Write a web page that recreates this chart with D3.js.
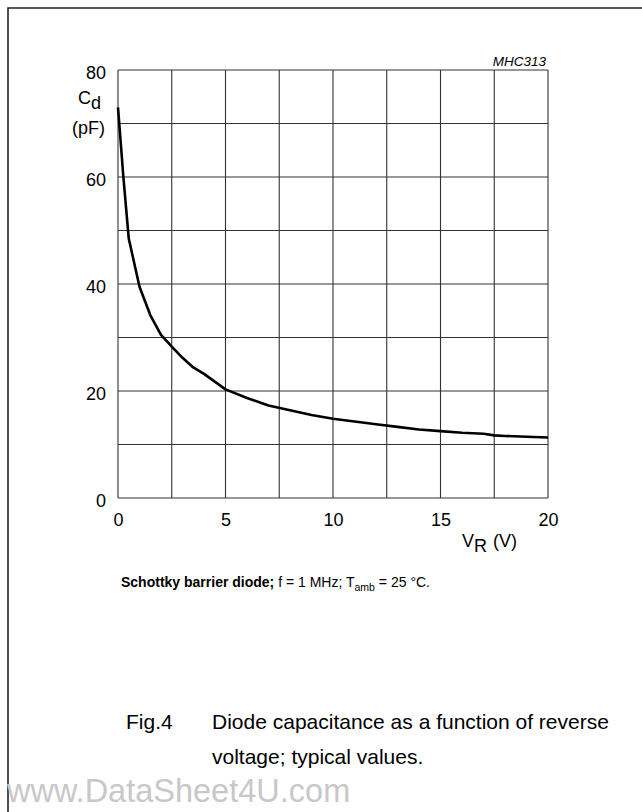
<!DOCTYPE html>
<html>
<head>
<meta charset="utf-8">
<script src="https://cdn.jsdelivr.net/npm/d3@7"></script>
<style>
  html, body { margin: 0; padding: 0; background: #fff; }
  svg { display: block; font-family: "Liberation Sans", Arial, sans-serif; }
</style>
</head>
<body>
<div id="chart"></div>
<script>
// reverse voltage (V) and diode capacitance (pF)
const vr = [0, 0.25, 0.5, 1, 1.5, 2, 2.5, 3, 3.5, 4, 5, 6, 7, 8, 9, 10, 11, 12, 13, 14, 15, 16, 17, 17.5, 18, 19, 20];
const cd = [73, 60, 48.5, 39.5, 34.2, 30.5, 28.3, 26.2, 24.4, 23.2, 20.3, 18.7, 17.3, 16.4, 15.5, 14.8, 14.3, 13.8, 13.3, 12.8, 12.5, 12.2, 12.0, 11.7, 11.6, 11.45, 11.3];

const xTicks = [0, 5, 10, 15, 20];
const yTicks = [0, 20, 40, 60, 80];
const xGrid = d3.range(0, 20.01, 2.5);
const yGrid = d3.range(0, 80.01, 10);

const W = 642, H = 812;
const margin = { top: 70, right: 94, bottom: 314, left: 118 };
const width = W - margin.left - margin.right;
const height = H - margin.top - margin.bottom;

const svg = d3.select("#chart").append("svg")
    .attr("width", W)
    .attr("height", H);

// page frame (top and left edge only)
svg.append("path")
    .attr("d", `M8,${H} L8,8 L${W},8`)
    .attr("fill", "none")
    .attr("stroke", "#222")
    .attr("stroke-width", 1.6);

const g = svg.append("g")
    .attr("transform", `translate(${margin.left},${margin.top})`);

const x = d3.scaleLinear().domain([0, 20]).range([0, width]);
const y = d3.scaleLinear().domain([0, 80]).range([height, 0]);

// grid
g.append("g").selectAll("line").data(xGrid).join("line")
    .attr("x1", d => x(d)).attr("x2", d => x(d))
    .attr("y1", 0).attr("y2", height)
    .attr("stroke", "#333").attr("stroke-width", 1.1);

g.append("g").selectAll("line").data(yGrid).join("line")
    .attr("x1", 0).attr("x2", width)
    .attr("y1", d => y(d)).attr("y2", d => y(d))
    .attr("stroke", "#333").attr("stroke-width", 1.1);

// axes labels
const xAxis = d3.axisBottom(x).tickValues(xTicks).tickSize(0).tickPadding(15);
g.append("g")
    .attr("transform", `translate(0,${height})`)
    .call(xAxis)
    .call(a => a.select(".domain").remove())
    .selectAll("text")
    .attr("font-size", 18).attr("fill", "#000")
    .attr("font-family", "Liberation Sans, Arial, sans-serif");

const yAxis = d3.axisLeft(y).tickValues(yTicks).tickSize(0).tickPadding(12);
g.append("g")
    .call(yAxis)
    .call(a => a.select(".domain").remove())
    .selectAll("text")
    .attr("font-size", 18).attr("fill", "#000")
    .attr("dy", "0.45em")
    .attr("font-family", "Liberation Sans, Arial, sans-serif");

// curve
const line = d3.line()
    .x((d, i) => x(vr[i]))
    .y(d => y(d));

g.append("path")
    .datum(cd)
    .attr("d", line)
    .attr("fill", "none")
    .attr("stroke", "#000")
    .attr("stroke-width", 2.6)
    .attr("stroke-linejoin", "round");

// axis titles
const yt = svg.append("text").attr("x", 78).attr("y", 104).attr("font-size", 18);
yt.append("tspan").text("C");
yt.append("tspan").attr("dy", 5).text("d");
svg.append("text").attr("x", 72).attr("y", 134).attr("font-size", 18).text("(pF)");

const xt = svg.append("text").attr("x", 462).attr("y", 547).attr("font-size", 18);
xt.append("tspan").text("V");
xt.append("tspan").attr("dy", 5).text("R");
xt.append("tspan").attr("dy", -5).attr("dx", 6).text("(V)");

svg.append("text")
    .attr("x", 546).attr("y", 66)
    .attr("text-anchor", "end")
    .attr("font-size", 13.5).attr("font-style", "italic")
    .text("MHC313");

// conditions line
const cond = svg.append("text").attr("x", 121).attr("y", 587).attr("font-size", 14);
cond.append("tspan").attr("font-weight", "bold").text("Schottky barrier diode;");
cond.append("tspan").text(" f = 1 MHz; T");
cond.append("tspan").attr("dy", 4).attr("font-size", 10.5).text("amb");
cond.append("tspan").attr("dy", -4).text(" = 25 \u00B0C.");

// figure caption
svg.append("text").attr("x", 126).attr("y", 729).attr("font-size", 21).text("Fig.4");
svg.append("text").attr("x", 212).attr("y", 729).attr("font-size", 21)
    .text("Diode capacitance as a function of reverse");
svg.append("text").attr("x", 212).attr("y", 764).attr("font-size", 21)
    .text("voltage; typical values.");

// watermark
svg.append("text").attr("x", 7).attr("y", 802).attr("font-size", 32.5)
    .attr("fill", "#c8c8c8")
    .text("www.DataSheet4U.com");
</script>
</body>
</html>
